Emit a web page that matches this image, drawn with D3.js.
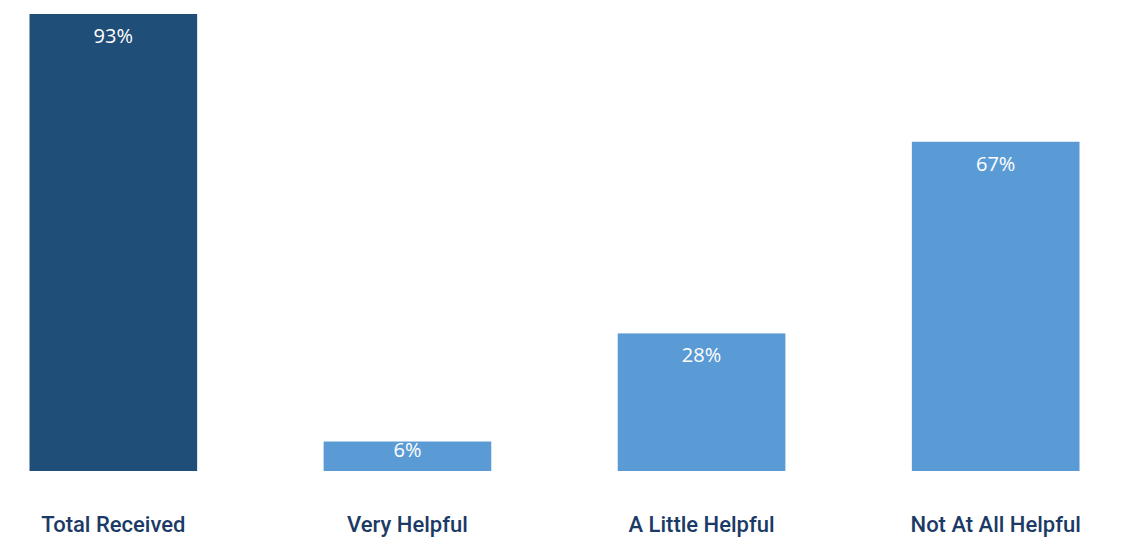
<!DOCTYPE html>
<html>
<head>
<meta charset="utf-8">
<script src="https://cdn.jsdelivr.net/npm/d3@7"></script>
<style>
  html, body { margin: 0; padding: 0; background: #fff; }
  svg { display: block; }
</style>
</head>
<body>
<svg id="chart" width="1125" height="538"></svg>
<script>
const categories = ["Total Received", "Very Helpful", "A Little Helpful", "Not At All Helpful"];
const values = [93, 6, 28, 67];
const barColors = ["#1f4e79", "#5b9bd5", "#5b9bd5", "#5b9bd5"];

const svg = d3.select("#chart");

const x = d3.scaleBand()
  .domain(categories)
  .range([29.5, 1079.5])
  .paddingInner(0.43)
  .paddingOuter(0);

const y = d3.scaleLinear().domain([0, 100]).range([471, -20.4]);

svg.selectAll("rect.bar")
  .data(values)
  .join("rect")
  .attr("class", "bar")
  .attr("x", (d, i) => x(categories[i]))
  .attr("y", (d) => y(d))
  .attr("width", x.bandwidth())
  .attr("height", (d) => y(0) - y(d))
  .attr("fill", (d, i) => barColors[i]);

// value labels inside the top of each bar
svg.selectAll("text.value")
  .data(values)
  .join("text")
  .attr("class", "value")
  .attr("x", (d, i) => x(categories[i]) + x.bandwidth() / 2)
  .attr("y", (d) => Math.min(y(d) + 29, y(0) - 14))
  .attr("text-anchor", "middle")
  .attr("fill", "#ffffff")
  .attr("font-family", "'Open Sans', sans-serif")
  .attr("font-size", 20)
  .text((d) => `${d}%`);

// category labels
const axis = d3.axisBottom(x).tickSize(0).tickPadding(0);
const gx = svg.append("g").attr("transform", "translate(0,471)").call(axis);
gx.select(".domain").remove();
gx.selectAll(".tick text")
  .attr("y", 61)
  .attr("dy", 0)
  .attr("fill", "#1b3a66")
  .attr("font-family", "Roboto, sans-serif")
  .attr("font-weight", 500)
  .attr("font-size", 22);
</script>
</body>
</html>
